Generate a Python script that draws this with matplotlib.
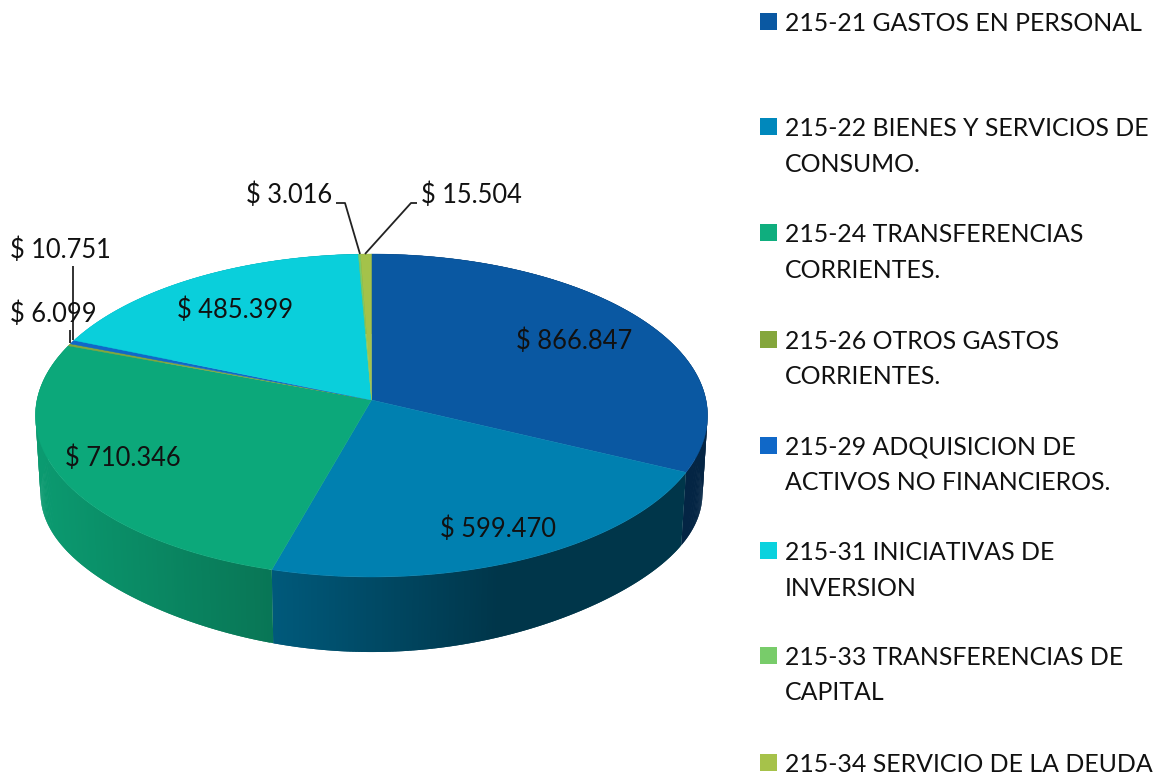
#!/usr/bin/env python

import numpy as np
import matplotlib
matplotlib.use('Agg')
import matplotlib.pyplot as plt
from matplotlib.collections import PolyCollection
from matplotlib.colors import to_rgb

plt.rcParams['font.family'] = ['Lato', 'DejaVu Sans']

# clockwise from 12 o'clock
values = [866847, 599470, 710346, 6099, 10751, 485399, 3016, 15504]
legend_lines = [
    ['215-21 GASTOS EN PERSONAL'],
    ['215-22 BIENES Y SERVICIOS DE', 'CONSUMO.'],
    ['215-24 TRANSFERENCIAS', 'CORRIENTES.'],
    ['215-26 OTROS GASTOS', 'CORRIENTES.'],
    ['215-29 ADQUISICION DE', 'ACTIVOS NO FINANCIEROS.'],
    ['215-31 INICIATIVAS DE', 'INVERSION'],
    ['215-33 TRANSFERENCIAS DE', 'CAPITAL'],
    ['215-34 SERVICIO DE LA DEUDA'],
]
slice_colors = ['#0a58a2', '#0080b0', '#0ca87a', '#84a63c',
                '#1068c8', '#0acfdb', '#78cc6a', '#a4c24a']
legend_colors = ['#0a58a2', '#0088bc', '#0fae7e', '#84a63c',
                 '#1068c8', '#0ad2de', '#78cc6a', '#a6c24a']

# layout in pixels
CX, CY = 371.5, 400.0
RX, RY, PERSP = 334.5, 160.0, 0.096
DEPTH, BOTTOM_SCALE = 77.7, 0.985
FS_LABEL = 18.4
FS_LEGEND = 17.9

# left x, baseline y of every value label, same order as values
label_pos = [(516, 349), (440, 537), (65, 466), (10, 322),
             (10, 258), (177, 318), (246, 203), (421, 203)]
legend_base = [31, 136, 242, 348.5, 454.5, 560, 665, 772]
leaders = [
    ([70, 70], [343, 330]),
    ([72.5, 72.5], [340, 266]),
    ([360, 345, 336], [254, 203, 203]),
    ([365, 411, 417], [254, 203, 203]),
]


def project(theta):
    # rim point of the tilted disc, theta clockwise from the back of the pie
    u, v = np.sin(theta), np.cos(theta)
    d = 1 + PERSP * v
    return RX * u / d, RY * v / d


def money(v):
    return '$ ' + f'{v:,}'.replace(',', '.')


fig = plt.figure(figsize=(11.58, 7.78), dpi=100)
ax = fig.add_axes([0, 0, 1, 1])
ax.set_xlim(0, 1158)
ax.set_ylim(778, 0)
ax.axis('off')

edges = np.cumsum([0] + values) / sum(values) * 2 * np.pi

# side wall first, the top covers whatever is behind
for i, col in enumerate(slice_colors):
    n = max(3, int((edges[i + 1] - edges[i]) * 120))
    th = np.linspace(edges[i], edges[i + 1], n)
    x, y = project(th)
    xt, yt = CX + x, CY - y
    # lower rim sits a little flatter on the diagonals
    xb = CX + x * BOTTOM_SCALE
    yb = CY + DEPTH - y * BOTTOM_SCALE - 6 * np.sin(2 * th) ** 2
    polys, cols = [], []
    # each strip runs over the next one so no seams show
    for j in range(n - 1):
        k = min(j + 2, n - 1)
        polys.append([(xt[j], yt[j]), (xt[k], yt[k]), (xb[k], yb[k]), (xb[j], yb[j])])
        shade = np.interp((xt[j] + xt[j + 1]) / 2, [35, 272, 500, 708],
                          [0.92, 0.70, 0.42, 0.42])
        cols.append(tuple(c * shade for c in to_rgb(col)))
    ax.add_collection(PolyCollection(polys, facecolors=cols, edgecolors='none',
                                     linewidths=0, zorder=1))

# top face
for i, col in enumerate(slice_colors):
    n = max(2, int((edges[i + 1] - edges[i]) * 120))
    th = np.linspace(edges[i], edges[i + 1], n)
    x, y = project(th)
    ax.fill(np.r_[CX, CX + x], np.r_[CY, CY - y], color=col, lw=0.3, zorder=2)

for xs, ys in leaders:
    ax.plot(xs, ys, color='#222222', lw=1.3, zorder=3, solid_capstyle='butt')

for v, (lx, ly) in zip(values, label_pos):
    ax.text(lx, ly, money(v), fontsize=FS_LABEL, color='#111111',
            ha='left', va='baseline', zorder=4)

for lines, col, base in zip(legend_lines, legend_colors, legend_base):
    ax.fill([760, 777, 777, 760], [base - 18, base - 18, base - 1, base - 1],
            color=col, lw=0, zorder=3)
    for k, line in enumerate(lines):
        ax.text(785, base + 35.5 * k, line, fontsize=FS_LEGEND, color='#111111',
                ha='left', va='baseline', zorder=4)

fig.savefig('out.png', dpi=100)
